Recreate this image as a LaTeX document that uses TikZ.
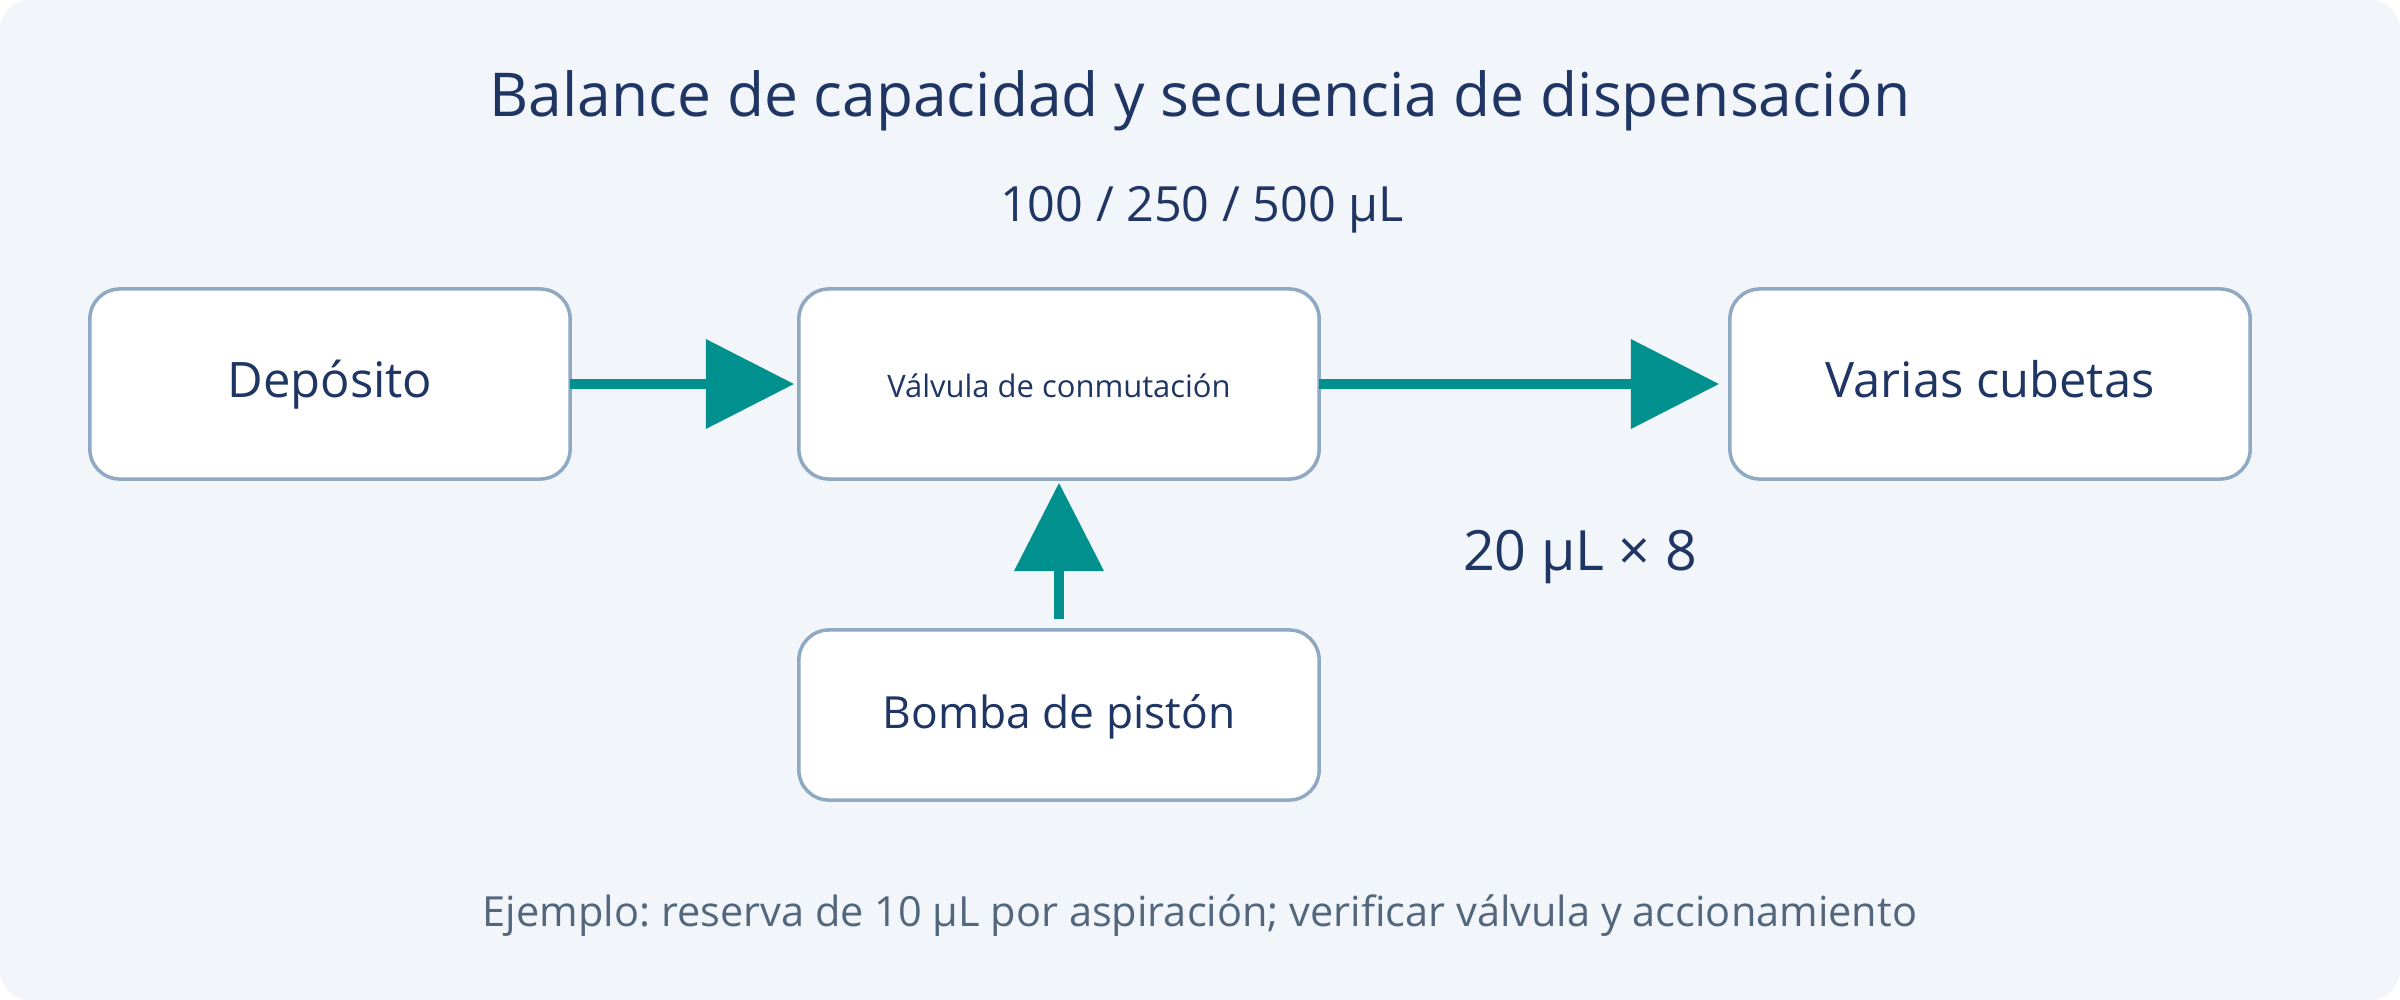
\documentclass[tikz,border=0pt]{standalone}
\usepackage{fontspec}
\setmainfont{Open Sans}
\usetikzlibrary{arrows.meta}
\definecolor{navy}{HTML}{1F3564}
\definecolor{teal}{HTML}{00918E}
\definecolor{boxline}{HTML}{8FA9C3}
\definecolor{bgpanel}{HTML}{F2F6FB}
\definecolor{foot}{HTML}{52677D}
\tikzset{
  box/.style={draw=boxline, line width=1pt, fill=white, rounded corners=0.3cm,
    text=navy, align=center, inner sep=0pt, outer sep=0pt,
    text height=0.76em, text depth=0pt},
  flow/.style={draw=teal, line width=0.1cm,
    -{Triangle[length=0.88cm, width=0.9cm, line width=0pt]}},
  lbl/.style={text=navy, inner sep=0pt, anchor=base}
}
\frenchspacing
\begin{document}
\begin{tikzpicture}[x=0.01cm, y=-0.01cm]
\useasboundingbox (0,0) rectangle (2400,1000);
\fill[white] (0,0) rectangle (2400,1000);
\fill[bgpanel, rounded corners=0.3cm] (0,0) rectangle (2400,1000);

\node[lbl, font=\fontsize{17.2}{21}\selectfont] (title) at (1200,116) {Balance de capacidad y secuencia de dispensación};
\node[lbl, font=\fontsize{13.8}{17}\selectfont] (cap) at (1202,221) {100 / 250 / 500 µL};

\node[box, minimum width=4.8cm, minimum height=1.9cm, font=\fontsize{13.9}{17}\selectfont] (dep) at (330,384) {Depósito};
\node[box, minimum width=5.2cm, minimum height=1.9cm, font=\fontsize{8.8}{11}\selectfont] (val) at (1059,384) {Válvula de conmutación};
\node[box, minimum width=5.2cm, minimum height=1.9cm, font=\fontsize{13.9}{17}\selectfont] (var) at (1990,384) {Varias cubetas};
\node[box, minimum width=5.2cm, minimum height=1.7cm, font=\fontsize{12.6}{15}\selectfont] (bomba) at (1059,715) {Bomba de pistón};

\draw[flow, shorten >=0.05cm] (dep) -- (val);
\draw[flow, shorten >=0.11cm] (val) -- (var);
\draw[flow, shorten <=0.11cm, shorten >=0.04cm] (bomba) -- (val);

\node[lbl, font=\fontsize{15.8}{19}\selectfont] (mult) at (1580,570) {20 µL × 8};

\node[lbl, text=foot, font=\fontsize{11.8}{15}\selectfont] (note) at (1200,926) {Ejemplo: reserva de 10 µL por aspiración; verificar válvula y accionamiento};
\end{tikzpicture}
\end{document}
